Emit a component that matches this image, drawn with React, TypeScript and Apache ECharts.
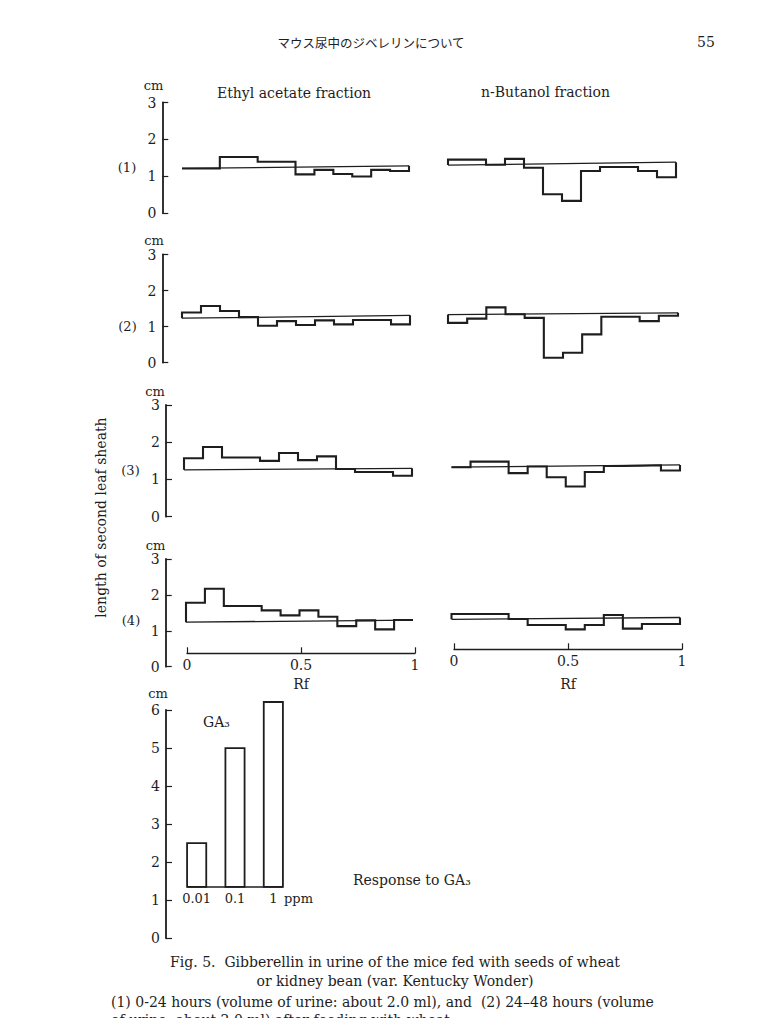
import React, { useEffect, useRef } from "react";
import * as echarts from "echarts";

const SERIF = "'DejaVu Serif', 'Liberation Serif', serif";
const CJK = "'Noto Sans CJK JP', 'Noto Sans CJK SC', sans-serif";
const INK = "#1e1e1e";

// ---- data (length of second leaf sheath, cm) for 12 equal Rf fractions ----
const ethyl1 = [1.21, 1.21, 1.52, 1.52, 1.39, 1.39, 1.05, 1.17, 1.06, 0.99, 1.17, 1.14];
const ethyl1Base = [1.21, 1.28];
const butanol1 = [1.45, 1.45, 1.31, 1.47, 1.23, 0.51, 0.33, 1.14, 1.25, 1.25, 1.14, 0.97];
const butanol1Base = [1.3, 1.38];

const ethyl2 = [1.39, 1.57, 1.43, 1.26, 1.02, 1.15, 1.04, 1.17, 1.06, 1.18, 1.18, 1.06];
const ethyl2Base = [1.23, 1.31];
const butanol2 = [1.1, 1.22, 1.53, 1.34, 1.24, 0.13, 0.27, 0.78, 1.27, 1.27, 1.15, 1.3];
const butanol2Base = [1.33, 1.38];

const ethyl3 = [1.57, 1.87, 1.59, 1.59, 1.5, 1.71, 1.52, 1.62, 1.28, 1.2, 1.2, 1.1];
const ethyl3Base = [1.26, 1.3];
const butanol3 = [1.33, 1.48, 1.48, 1.17, 1.35, 1.06, 0.81, 1.2, 1.36, 1.37, 1.38, 1.24];
const butanol3Base = [1.33, 1.39];

const ethyl4 = [1.78, 2.17, 1.69, 1.69, 1.57, 1.43, 1.57, 1.39, 1.13, 1.29, 1.04, 1.3];
const ethyl4Base = [1.24, 1.3];
const butanol4 = [1.47, 1.47, 1.47, 1.33, 1.16, 1.16, 1.04, 1.16, 1.44, 1.06, 1.19, 1.19];
const butanol4Base = [1.32, 1.37];

const cmRange = [0, 3];
const rfRange = [0, 1];
const rfInterval = 0.5;

// GA3 response
const ga3Doses = ["0.01", "0.1", "1"];
const ga3Lengths = [2.5, 5.0, 6.21];
const ga3Control = 1.35;
const ga3Range = [0, 6];

// ---- layout (pixels) ----
const panelLayout = [
  { values: ethyl1, base: ethyl1Base, left: 182, width: 227, top: 102.5, height: 110.5, axisX: 162.3 },
  { values: butanol1, base: butanol1Base, left: 448, width: 228, top: 102.5, height: 110.5, axisX: 0 },
  { values: ethyl2, base: ethyl2Base, left: 182, width: 228, top: 254.5, height: 108, axisX: 162.3 },
  { values: butanol2, base: butanol2Base, left: 448, width: 230, top: 254.5, height: 108, axisX: 0 },
  { values: ethyl3, base: ethyl3Base, left: 184, width: 228, top: 405, height: 111.7, axisX: 166 },
  { values: butanol3, base: butanol3Base, left: 451.5, width: 228.5, top: 405, height: 111.7, axisX: 0 },
  { values: ethyl4, base: ethyl4Base, left: 186, width: 227, top: 559, height: 107.7, axisX: 165.7 },
  { values: butanol4, base: butanol4Base, left: 451.5, width: 228.5, top: 559, height: 107.7, axisX: 0 },
];

function stepPoints(values: number[], base: number[]) {
  const n = values.length;
  const pts: number[][] = [[0, base[0]]];
  values.forEach((v, i) => {
    pts.push([i / n, v], [(i + 1) / n, v]);
  });
  pts.push([1, base[1]]);
  return pts;
}

const axisText = { color: INK, fontFamily: SERIF, fontSize: 14 };

function cmAxis(gridIndex: number, min: number, max: number) {
  return {
    type: "value",
    gridIndex,
    min,
    max,
    interval: 1,
    axisLine: { show: true, lineStyle: { color: INK, width: 1.8 } },
    axisTick: { show: true, inside: true, length: 6, lineStyle: { color: INK, width: 1.2 } },
    axisLabel: { ...axisText, margin: 6 },
    splitLine: { show: false },
  };
}

function buildOption() {
  const grid: any[] = [];
  const xAxis: any[] = [];
  const yAxis: any[] = [];
  const series: any[] = [];

  const addGrid = (g: any) => {
    grid.push({ ...g, outerBoundsMode: "none" });
    return grid.length - 1;
  };

  panelLayout.forEach((p) => {
    const gi = addGrid({ left: p.left, top: p.top, width: p.width, height: p.height });
    xAxis.push({ type: "value", gridIndex: gi, min: rfRange[0], max: rfRange[1], show: false });
    yAxis.push({ type: "value", gridIndex: gi, min: cmRange[0], max: cmRange[1], show: false });
    series.push({
      type: "line",
      xAxisIndex: gi,
      yAxisIndex: gi,
      data: [
        [0, p.base[0]],
        [1, p.base[1]],
      ],
      symbol: "none",
      lineStyle: { color: INK, width: 1.3 },
      silent: true,
    });
    series.push({
      type: "line",
      xAxisIndex: gi,
      yAxisIndex: gi,
      data: stepPoints(p.values, p.base),
      symbol: "none",
      lineStyle: { color: INK, width: 2.1, join: "miter" },
      silent: true,
    });
    if (p.axisX) {
      const ai = addGrid({ left: p.axisX, top: p.top, width: 12, height: p.height });
      xAxis.push({ type: "value", gridIndex: ai, min: 0, max: 1, show: false });
      yAxis.push(cmAxis(ai, cmRange[0], cmRange[1]));
    }
  });

  // Rf axes
  const rfAxes = [
    { left: 187, top: 647.3, gap: 23.5 },
    { left: 454, top: 643.3, gap: 27.5 },
  ];
  rfAxes.forEach((r) => {
    const gi = addGrid({ left: r.left, top: r.top, width: 228, height: 6 });
    xAxis.push({
      type: "value",
      gridIndex: gi,
      min: rfRange[0],
      max: rfRange[1],
      interval: rfInterval,
      name: "Rf",
      nameLocation: "middle",
      nameGap: r.gap,
      nameTextStyle: { ...axisText },
      axisLine: { show: true, onZero: false, lineStyle: { color: INK, width: 1.3 } },
      axisTick: { show: true, inside: true, length: 6, lineStyle: { color: INK, width: 1.2 } },
      axisLabel: { ...axisText, margin: 5 },
      splitLine: { show: false },
    });
    yAxis.push({ type: "value", gridIndex: gi, min: 0, max: 1, show: false });
  });

  // GA3 axis
  const gaAxis = addGrid({ left: 166, top: 710, width: 12, height: 228.3 });
  xAxis.push({ type: "value", gridIndex: gaAxis, min: 0, max: 1, show: false });
  yAxis.push(cmAxis(gaAxis, ga3Range[0], ga3Range[1]));

  // GA3 bars
  const ga = addGrid({ left: 177.5, top: 710, width: 115, height: 228.3 });
  xAxis.push({ type: "value", gridIndex: ga, min: 0, max: ga3Doses.length, show: false });
  yAxis.push({ type: "value", gridIndex: ga, min: ga3Range[0], max: ga3Range[1], show: false });
  series.push({
    type: "line",
    xAxisIndex: ga,
    yAxisIndex: ga,
    data: [
      [0.25, ga3Control],
      [ga3Doses.length - 0.25, ga3Control],
    ],
    symbol: "none",
    lineStyle: { color: INK, width: 1.5 },
    silent: true,
  });
  series.push({
    type: "custom",
    xAxisIndex: ga,
    yAxisIndex: ga,
    data: ga3Lengths.map((v, i) => [i, v]),
    encode: { x: 0, y: 1 },
    renderItem: (_params: any, api: any) => {
      const i = api.value(0);
      const v = api.value(1);
      const p0 = api.coord([i + 0.25, ga3Control]);
      const p1 = api.coord([i + 0.75, v]);
      return {
        type: "rect",
        shape: { x: p0[0], y: p1[1], width: p1[0] - p0[0], height: p0[1] - p1[1] },
        style: { fill: "#fff", stroke: INK, lineWidth: 1.8 },
      };
    },
    silent: true,
  });

  // GA3 dose labels
  const gl = addGrid({ left: 177.5, top: 880, width: 115, height: 6.7 });
  xAxis.push({
    type: "category",
    gridIndex: gl,
    data: ga3Doses,
    axisLine: { show: false },
    axisTick: { show: false },
    axisLabel: { ...axisText, fontSize: 13, margin: 5 },
    splitLine: { show: false },
  });
  yAxis.push({ type: "value", gridIndex: gl, min: 0, max: 1, show: false });

  const txt = (text: string, x: number, y: number, opts: any = {}) => ({
    type: "text",
    x,
    y,
    silent: true,
    rotation: opts.rotation || 0,
    style: {
      text,
      fill: INK,
      font: `${opts.size || 14}px ${opts.family || SERIF}`,
      textAlign: opts.align || "center",
      textVerticalAlign: "middle",
    },
  });

  const graphic = [
    txt("マウス尿中のジベレリンについて", 371, 42, { size: 12.5, family: CJK }),
    txt("55", 706, 42, { size: 14 }),
    txt("Ethyl acetate fraction", 217, 93, { align: "left" }),
    txt("n-Butanol fraction", 481, 92, { align: "left" }),
    txt("cm", 153.5, 85, { size: 13 }),
    txt("cm", 154, 240.5, { size: 13 }),
    txt("cm", 155, 391.5, { size: 13 }),
    txt("cm", 155.5, 545, { size: 13 }),
    txt("cm", 158, 693, { size: 13 }),
    txt("(1)", 127, 167, { size: 13 }),
    txt("(2)", 127.5, 326.5, { size: 13 }),
    txt("(3)", 130.5, 470, { size: 13 }),
    txt("(4)", 131, 620, { size: 13 }),
    txt("length of second leaf sheath", 101, 517.5, { rotation: Math.PI / 2, size: 14 }),
    txt("GA₃", 203, 722, { align: "left" }),
    txt("ppm", 284, 898, { align: "left", size: 13 }),
    txt("Response to GA₃", 353, 880, { align: "left" }),
    txt("Fig. 5.  Gibberellin in urine of the mice fed with seeds of wheat", 395, 962, { size: 14 }),
    txt("or kidney bean (var. Kentucky Wonder)", 395, 981, { size: 14 }),
    txt("(1) 0-24 hours (volume of urine: about 2.0 ml), and  (2) 24–48 hours (volume", 111, 1002, { align: "left", size: 14 }),
    txt("of urine: about 2.0 ml) after feeding with wheat", 111, 1020, { align: "left", size: 14 }),
  ];

  return {
    animation: false,
    backgroundColor: "#ffffff",
    grid,
    xAxis,
    yAxis,
    series,
    graphic,
  };
}

export default function App() {
  const ref = useRef<HTMLDivElement>(null);
  useEffect(() => {
    if (!ref.current) return;
    const chart = echarts.init(ref.current, undefined, { renderer: "svg" });
    chart.setOption(buildOption() as any);
    return () => chart.dispose();
  }, []);
  return (
    <div
      ref={ref}
      style={{ position: "absolute", left: 0, top: 0, width: 758, height: 1018, background: "#fff" }}
    />
  );
}
